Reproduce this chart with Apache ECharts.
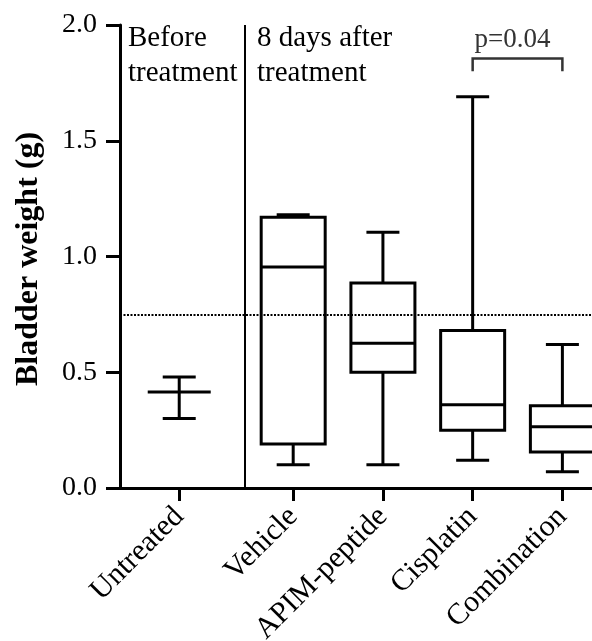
<!DOCTYPE html>
<html>
<head>
<meta charset="utf-8">
<title>Bladder weight</title>
<script src="https://cdn.jsdelivr.net/npm/echarts@6/dist/echarts.min.js"></script>
<style>
    html, body { margin: 0; padding: 0; background: #fff; }
    #chart { width: 592px; height: 641px; }
</style>
</head>
<body>
<div id="chart"></div>
<script>
// groups and their positions on the x axis (Untreated sits a bit apart)
var groups = ['Untreated', 'Vehicle', 'APIM-peptide', 'Cisplatin', 'Combination'];
var groupPos = [0, 1.27, 2.27, 3.27, 4.27];

// Untreated: mean with error bar
var untreatedMean = 0.415;
var untreatedLow = 0.30;
var untreatedHigh = 0.48;

// box plots for the treated groups (Vehicle .. Combination)
var boxMin = [0.10, 0.10, 0.12, 0.07];
var boxQ1 = [0.19, 0.50, 0.25, 0.155];
var boxMedian = [0.955, 0.625, 0.36, 0.265];
var boxQ3 = [1.17, 0.885, 0.68, 0.355];
var boxMax = [1.18, 1.105, 1.69, 0.62];

// reference line, separator between before / after
var refValue = 0.75;
var dividerPos = 0.735;

// significance bracket between Cisplatin and Combination
var bracketGroups = [3, 4];
var bracketTop = 1.855;
var bracketLeg = 1.80;
var bracketText = 'p=0.04';

var FONT = 'Liberation Serif';

window.onload = function () {
    initChart();
}

function nearestGroup(v) {
    var best = 0;
    for (var i = 1; i < groupPos.length; i++) {
        if (Math.abs(groupPos[i] - v) < Math.abs(groupPos[best] - v)) best = i;
    }
    return best;
}

// 画箱线图
function renderBox(params, api) {
    var x = api.value(0);
    var pMin = api.coord([x, api.value(1)]);
    var pQ1 = api.coord([x, api.value(2)]);
    var pMed = api.coord([x, api.value(3)]);
    var pQ3 = api.coord([x, api.value(4)]);
    var pMax = api.coord([x, api.value(5)]);
    var cx = pMin[0];
    var hw = 32, cw = 16.5;
    var st = { stroke: '#000', lineWidth: 3, fill: null };
    return {
        type: 'group',
        children: [
            { type: 'line', shape: { x1: cx, y1: pMax[1], x2: cx, y2: pQ3[1] }, style: st },
            { type: 'line', shape: { x1: cx, y1: pQ1[1], x2: cx, y2: pMin[1] }, style: st },
            { type: 'line', shape: { x1: cx - cw, y1: pMax[1], x2: cx + cw, y2: pMax[1] }, style: st },
            { type: 'line', shape: { x1: cx - cw, y1: pMin[1], x2: cx + cw, y2: pMin[1] }, style: st },
            { type: 'rect', shape: { x: cx - hw, y: pQ3[1], width: hw * 2, height: pQ1[1] - pQ3[1] }, style: st },
            { type: 'line', shape: { x1: cx - hw, y1: pMed[1], x2: cx + hw, y2: pMed[1] }, style: st }
        ]
    };
}

// 均值 + 误差线
function renderMean(params, api) {
    var x = api.value(0);
    var pMean = api.coord([x, api.value(1)]);
    var pLow = api.coord([x, api.value(2)]);
    var pHigh = api.coord([x, api.value(3)]);
    var cx = pMean[0];
    var st = { stroke: '#000', lineWidth: 3 };
    return {
        type: 'group',
        children: [
            { type: 'line', shape: { x1: cx, y1: pHigh[1], x2: cx, y2: pLow[1] }, style: st },
            { type: 'line', shape: { x1: cx - 16.5, y1: pHigh[1], x2: cx + 16.5, y2: pHigh[1] }, style: st },
            { type: 'line', shape: { x1: cx - 16.5, y1: pLow[1], x2: cx + 16.5, y2: pLow[1] }, style: st },
            { type: 'line', shape: { x1: cx - 31.5, y1: pMean[1], x2: cx + 31.5, y2: pMean[1] }, style: st }
        ]
    };
}

function renderBracket(params, api) {
    var a = api.coord([api.value(0), api.value(2)]);
    var b = api.coord([api.value(1), api.value(2)]);
    var leg = api.coord([api.value(0), api.value(3)]);
    var st = { stroke: '#333', lineWidth: 2.5, fill: null };
    return {
        type: 'group',
        children: [
            { type: 'polyline', shape: { points: [[a[0], leg[1]], a, b, [b[0], leg[1]]] }, style: st },
            {
                type: 'text', x: (a[0] + b[0]) / 2 - 5, y: a[1] - 5,
                style: { text: bracketText, fill: '#333', font: '27px "' + FONT + '"', align: 'center', verticalAlign: 'bottom' }
            }
        ]
    };
}

function initChart() {
    var chart = echarts.init(document.getElementById('chart'));

    var boxData = [];
    for (var i = 0; i < boxMin.length; i++) {
        boxData.push([groupPos[i + 1], boxMin[i], boxQ1[i], boxMedian[i], boxQ3[i], boxMax[i]]);
    }

    chart.setOption({
        animation: false,
        grid: { left: 120, right: 0, top: 25, bottom: 153, outerBoundsMode: 'none', containLabel: false },
        xAxis: {
            type: 'value',
            min: -0.66,
            max: 4.6,
            splitLine: { show: false },
            axisLine: { show: true, onZero: false, lineStyle: { color: '#000', width: 3 } },
            axisTick: { show: true, customValues: groupPos, length: 13, lineStyle: { color: '#000', width: 3 } },
            axisLabel: {
                customValues: groupPos,
                rotate: 45,
                margin: 24,
                color: '#000',
                fontFamily: FONT,
                fontSize: 30,
                formatter: function (v) { return groups[nearestGroup(v)]; }
            }
        },
        yAxis: {
            type: 'value',
            min: 0,
            max: 2,
            interval: 0.5,
            splitLine: { show: false },
            axisLine: { show: true, onZero: false, lineStyle: { color: '#000', width: 3 } },
            axisTick: { show: true, length: 14, lineStyle: { color: '#000', width: 3 } },
            axisLabel: {
                margin: 23,
                color: '#000',
                fontFamily: FONT,
                fontSize: 28,
                formatter: function (v) { return v.toFixed(1); }
            }
        },
        graphic: [
            {
                type: 'text', x: 29, y: 259, rotation: Math.PI / 2,
                style: { text: 'Bladder weight (g)', fill: '#000', font: 'bold 32px "' + FONT + '"', align: 'center', verticalAlign: 'middle' }
            },
            {
                type: 'text', x: 128, y: 21,
                style: { text: 'Before\ntreatment', fill: '#000', font: '29px "' + FONT + '"', lineHeight: 35, align: 'left', verticalAlign: 'top' }
            },
            {
                type: 'text', x: 257, y: 21,
                style: { text: '8 days after\ntreatment', fill: '#000', font: '29px "' + FONT + '"', lineHeight: 35, align: 'left', verticalAlign: 'top' }
            }
        ],
        series: [
            {
                type: 'custom',
                clip: false,
                renderItem: renderBox,
                data: boxData,
                markLine: {
                    silent: true,
                    symbol: 'none',
                    label: { show: false },
                    data: [
                        { yAxis: refValue, lineStyle: { color: '#000', width: 2, type: [2, 1.5] } },
                        { xAxis: dividerPos, lineStyle: { color: '#000', width: 2, type: 'solid' } }
                    ]
                }
            },
            {
                type: 'custom',
                clip: false,
                renderItem: renderMean,
                data: [[groupPos[0], untreatedMean, untreatedLow, untreatedHigh]]
            },
            {
                type: 'custom',
                clip: false,
                renderItem: renderBracket,
                data: [[groupPos[bracketGroups[0]], groupPos[bracketGroups[1]], bracketTop, bracketLeg]]
            }
        ]
    });
}
</script>
</body>
</html>
